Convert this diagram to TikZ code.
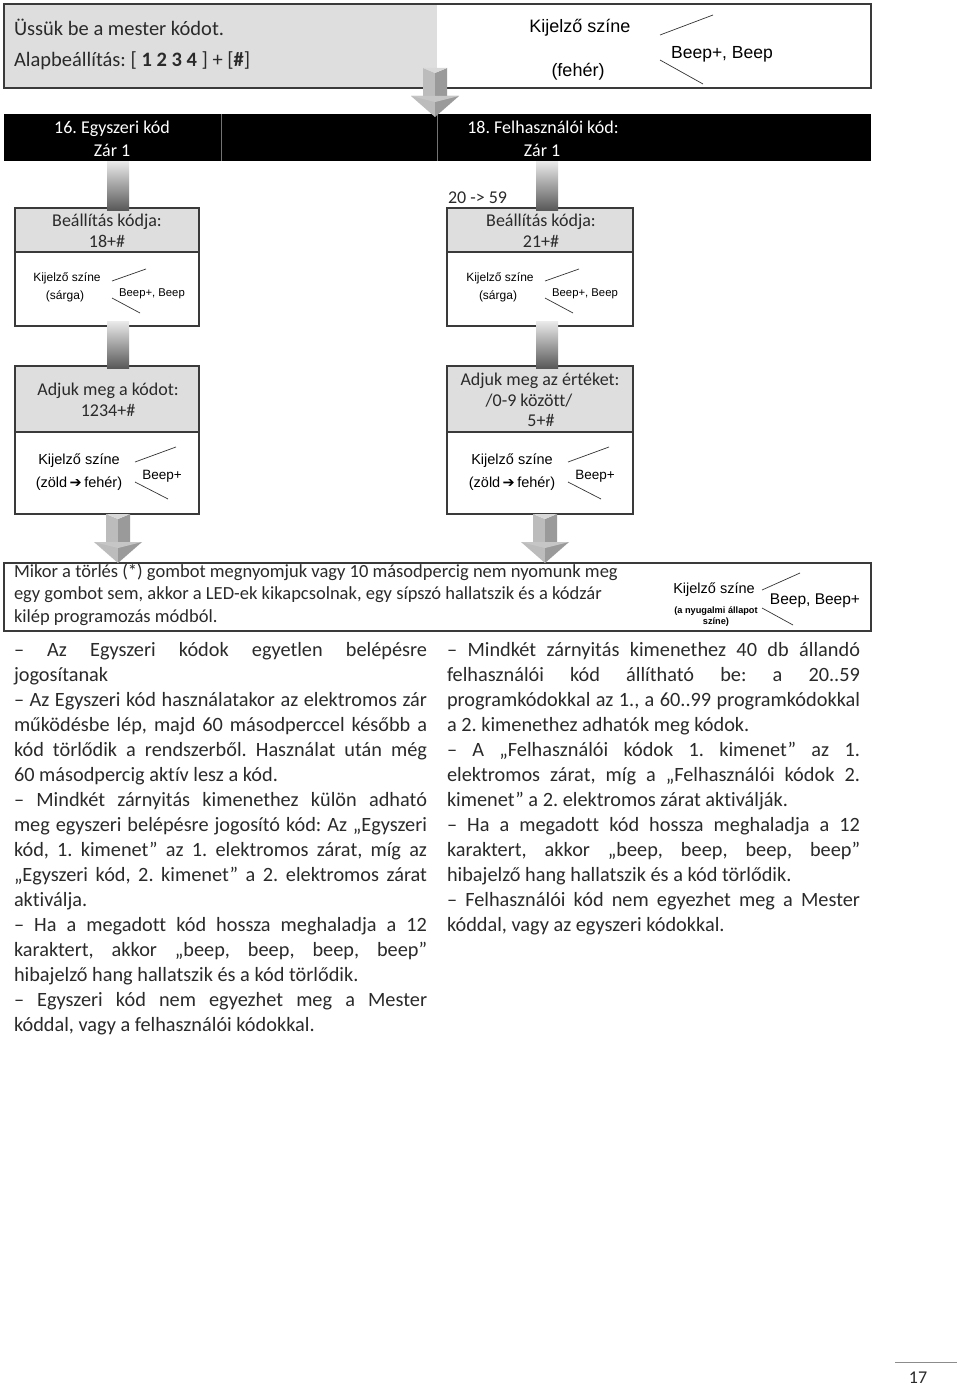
\documentclass[tikz,border=0pt]{standalone}
\usepackage{fontspec}
\setmainfont{Carlito}[Ligatures={TeX,NoCommon}]
\newfontfamily\arialf{Liberation Sans}
\newfontfamily\dejavuf{DejaVu Sans}
\usetikzlibrary{calc}
\frenchspacing
\definecolor{boxgray}{HTML}{DEDEDE}
\definecolor{edgecol}{HTML}{3A3A3A}
\definecolor{txtcol}{HTML}{2A2A2A}
\definecolor{arA}{HTML}{BCBCBC}
\definecolor{arB}{HTML}{9A9A9A}
\definecolor{arC}{HTML}{D8D8D8}
\definecolor{arD}{HTML}{C6C6C6}
\newcommand\jl[1]{\makebox[413pt][s]{#1}}
\tikzset{
  frame/.style={draw=edgecol, line width=1.2pt},
  tx/.style={inner sep=0pt, outer sep=0pt, text=txtcol},
  body/.style={tx, anchor=base west, font=\fontsize{20.3}{25}\selectfont\frenchspacing},
  boxtxt/.style={tx, anchor=base, font=\fontsize{18}{21}\selectfont},
  bartxt/.style={inner sep=0pt, anchor=base, text=white, font=\fontsize{18}{21}\selectfont},
  ar/.style={inner sep=0pt, anchor=base, text=black, font=\arialf\fontsize{#1}{#1}\selectfont},
  tick/.style={draw=black!80, line width=0.7pt},
  connbar/.style={top color=black!8, bottom color=black!65},
  downarrow/.pic={
    \fill[arA] (-12,-49) -- (0,-44) -- (0,-20) -- (-12,-20) -- cycle;
    \fill[arB] (12,-49) -- (0,-44) -- (0,-20) -- (12,-20) -- cycle;
    \fill[arC] (-12,-49) -- (12,-49) -- (0,-44) -- cycle;
    \fill[arA] (-24,-21) -- (0,-21) -- (0,0) -- cycle;
    \fill[arB] (24,-21) -- (0,-21) -- (0,0) -- cycle;
    \fill[arD] (-24,-21) -- (24,-21) -- (0,-15) -- cycle;
  }
}
\begin{document}
\begin{tikzpicture}[x=1pt,y=-1pt]
\useasboundingbox (0,0) rectangle (960,1386);
\fill[white] (0,0) rectangle (960,1386);

% ---------- top box
\fill[boxgray] (4,4) rectangle (437,88);
\draw[frame] (4,4) rectangle (871,88);
\node[tx, anchor=base west, font=\fontsize{20.5}{25}\selectfont] (h1) at (14,36) {Üssük be a mester kódot.};
\node[tx, anchor=base west, font=\fontsize{20.5}{25}\selectfont] (h2) at (14,67) {Alapbeállítás: [ \textbf{1 2 3 4} ] + [\textbf{\#}]};
\node[ar=18] (k0) at (580,33) {Kijelző színe};
\node[ar=18] (f0) at (578,77) {(fehér)};
\node[ar=17.5] (b0) at (722,59) {Beep+, Beep};
\draw[tick] (660,35) -- (713,15);
\draw[tick] (660,60) -- (703,84);

% ---------- black bar
\fill[black] (4,114) rectangle (871,161);
\draw[black!55, line width=0.6pt] (221,114) -- (221,161) (437,114) -- (437,161);
\node[bartxt] (c1a) at (112,133) {16. Egyszeri kód};
\node[bartxt] (c1b) at (112,157) {Zár 1};
\node[bartxt] (c3a) at (543,133) {18. Felhasználói kód:};
\node[bartxt] (c3b) at (542,157) {Zár 1};

% ---------- row 1 boxes
\fill[boxgray] (15,208) rectangle (199,252);
\draw[frame] (15,208) rectangle (199,326);
\draw[frame] (15,252) -- (199,252);
\fill[boxgray] (447,208) rectangle (633,252);
\draw[frame] (447,208) rectangle (633,326);
\draw[frame] (447,252) -- (633,252);
\node[boxtxt] (s1a) at (107,226) {Beállítás kódja:};
\node[boxtxt] (s1b) at (107,247) {18+\#};
\node[boxtxt] (s2a) at (541,226) {Beállítás kódja:};
\node[boxtxt] (s2b) at (541,247) {21+\#};
\node[tx, anchor=base west, font=\fontsize{18}{21}\selectfont] (rng) at (448,203) {20 -> 59};

\node[ar=12] (k1) at (67,281.5) {Kijelző színe};
\node[ar=12] (y1) at (65,299) {(sárga)};
\node[ar=11.3] (e1) at (152,296.5) {Beep+, Beep};
\draw[tick] (112,281) -- (146,269);
\draw[tick] (112,298) -- (140,313);
\node[ar=12] (k2) at (500,281.5) {Kijelző színe};
\node[ar=12] (y2) at (498,299) {(sárga)};
\node[ar=11.3] (e2) at (585,296.5) {Beep+, Beep};
\draw[tick] (545,281) -- (579,269);
\draw[tick] (545,298) -- (573,313);

% ---------- row 2 boxes
\fill[boxgray] (15,366) rectangle (199,432);
\draw[frame] (15,366) rectangle (199,514);
\draw[frame] (15,432) -- (199,432);
\fill[boxgray] (447,366) rectangle (633,432);
\draw[frame] (447,366) rectangle (633,514);
\draw[frame] (447,432) -- (633,432);
\node[boxtxt] (a1a) at (108,395) {Adjuk meg a kódot:};
\node[boxtxt] (a1b) at (108,416) {1234+\#};
\node[boxtxt] (a2a) at (540,385) {Adjuk meg az értéket:};
\node[boxtxt] (a2b) at (529,406) {/0-9 között/};
\node[boxtxt] (a2c) at (541,426) {5+\#};

\node[ar=14.5] (k3) at (79,464) {Kijelző színe};
\node[ar=14.5] (z3) at (79,487) {(zöld{\dejavuf\bfseries\,➔\,}fehér)};
\node[ar=13.5] (e3) at (162,479) {Beep+};
\draw[tick] (135,462) -- (176,447);
\draw[tick] (135,482) -- (168,499);
\node[ar=14.5] (k4) at (512,464) {Kijelző színe};
\node[ar=14.5] (z4) at (512,487) {(zöld{\dejavuf\bfseries\,➔\,}fehér)};
\node[ar=13.5] (e4) at (595,479) {Beep+};
\draw[tick] (568,462) -- (609,447);
\draw[tick] (568,482) -- (601,499);

% ---------- connector bars
\shade[connbar] (107,161) rectangle (129,210);
\shade[connbar] (536,161) rectangle (558,210);
\shade[connbar] (107,321) rectangle (129,368);
\shade[connbar] (536,321) rectangle (558,368);

% ---------- bottom info box
\draw[frame] (4,563) rectangle (871,631);
\node[tx, anchor=base west, font=\fontsize{18.5}{22.5}\selectfont] (m1) at (14,577) {Mikor a törlés (*) gombot megnyomjuk vagy 10 másodpercig nem nyomunk meg};
\node[tx, anchor=base west, font=\fontsize{18.5}{22.5}\selectfont] (m2) at (14,599.5) {egy gombot sem, akkor a LED-ek kikapcsolnak, egy sípszó hallatszik és a kódzár};
\node[tx, anchor=base west, font=\fontsize{18.5}{22.5}\selectfont] (m3) at (14,622) {kilép programozás módból.};
\node[ar=14.5] (k5) at (714,593) {Kijelző színe};
\node[inner sep=0pt, anchor=base, font=\arialf\bfseries\fontsize{9.2}{10}\selectfont] (n5a) at (716,613) {(a nyugalmi állapot};
\node[inner sep=0pt, anchor=base, font=\arialf\bfseries\fontsize{9.2}{10}\selectfont] (n5b) at (716,624) {színe)};
\node[ar=15.5] (e5) at (815,604) {Beep, Beep+};
\draw[tick] (762,590) -- (800,573);
\draw[tick] (762,608) -- (793,625);

% ---------- arrows
\pic at (435,117) {downarrow};
\pic at (118,563) {downarrow};
\pic at (545,563) {downarrow};

% ---------- body text, left column
\node[body] (l1) at (14,656) {\jl{– Az Egyszeri kódok egyetlen belépésre}};
\node[body] (l2) at (14,681) {jogosítanak};
\node[body] (l3) at (14,706) {\jl{– Az Egyszeri kód használatakor az elektromos zár}};
\node[body] (l4) at (14,731) {\jl{működésbe lép, majd 60 másodperccel később a}};
\node[body] (l5) at (14,756) {\jl{kód törlődik a rendszerből. Használat után még}};
\node[body] (l6) at (14,781) {60 másodpercig aktív lesz a kód.};
\node[body] (l7) at (14,806) {\jl{– Mindkét zárnyitás kimenethez külön adható}};
\node[body] (l8) at (14,831) {\jl{meg egyszeri belépésre jogosító kód: Az „Egyszeri}};
\node[body] (l9) at (14,856) {\jl{kód, 1. kimenet” az 1. elektromos zárat, míg az}};
\node[body] (l10) at (14,881) {\jl{„Egyszeri kód, 2. kimenet” a 2. elektromos zárat}};
\node[body] (l11) at (14,906) {aktiválja.};
\node[body] (l12) at (14,931) {\jl{– Ha a megadott kód hossza meghaladja a 12}};
\node[body] (l13) at (14,956) {\jl{karaktert, akkor „beep, beep, beep, beep”}};
\node[body] (l14) at (14,981) {hibajelző hang hallatszik és a kód törlődik.};
\node[body] (l15) at (14,1006) {\jl{– Egyszeri kód nem egyezhet meg a Mester}};
\node[body] (l16) at (14,1031) {kóddal, vagy a felhasználói kódokkal.};

% ---------- body text, right column
\node[body] (r1) at (447,656) {\jl{– Mindkét zárnyitás kimenethez 40 db állandó}};
\node[body] (r2) at (447,681) {\jl{felhasználói kód állítható be: a 20..59}};
\node[body] (r3) at (447,706) {\jl{programkódokkal az 1., a 60..99 programkódokkal}};
\node[body] (r4) at (447,731) {a 2. kimenethez adhatók meg kódok.};
\node[body] (r5) at (447,756) {\jl{– A „Felhasználói kódok 1. kimenet” az 1.}};
\node[body] (r6) at (447,781) {\jl{elektromos zárat, míg a „Felhasználói kódok 2.}};
\node[body] (r7) at (447,806) {kimenet” a 2. elektromos zárat aktiválják.};
\node[body] (r8) at (447,831) {\jl{– Ha a megadott kód hossza meghaladja a 12}};
\node[body] (r9) at (447,856) {\jl{karaktert, akkor „beep, beep, beep, beep”}};
\node[body] (r10) at (447,881) {hibajelző hang hallatszik és a kód törlődik.};
\node[body] (r11) at (447,906) {\jl{– Felhasználói kód nem egyezhet meg a Mester}};
\node[body] (r12) at (447,931) {kóddal, vagy az egyszeri kódokkal.};

% ---------- page number
\draw[black!45, line width=0.8pt] (895,1362) -- (957,1362);
\node[tx, anchor=base, font=\fontsize{18}{21}\selectfont] (pg) at (918,1383) {17};
\end{tikzpicture}
\end{document}
